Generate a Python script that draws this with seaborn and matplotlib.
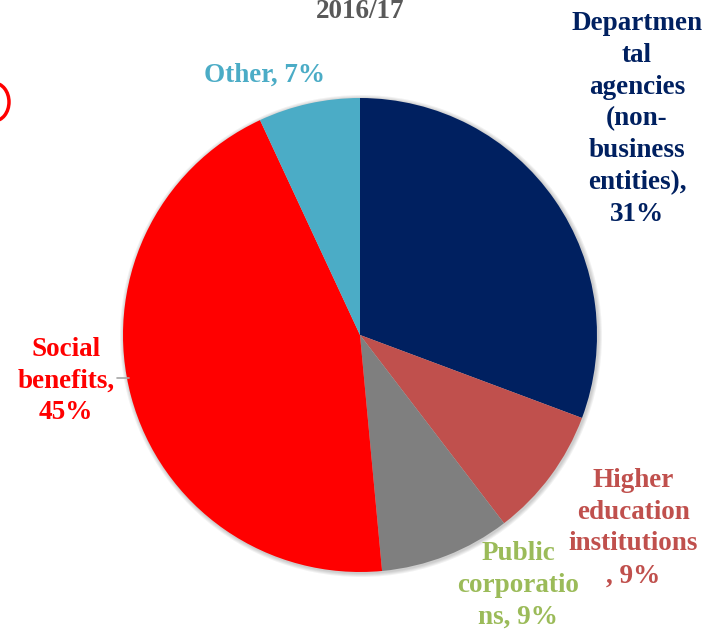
import matplotlib
matplotlib.use("Agg")
import matplotlib.pyplot as plt
import seaborn as sns
from matplotlib.patches import Ellipse, Circle

sns.set_theme(style="white")
plt.rcParams['font.family'] = ['Liberation Serif', 'DejaVu Serif']

title = "2016/17"
categories = ["Departmental agencies (non-business entities)", "Higher education institutions",
              "Public corporations", "Social benefits", "Other"]
values = [31, 9, 9, 45, 7]
label_texts = ["Departmen\ntal\nagencies\n(non-\nbusiness\nentities),\n31%",
               "Higher\neducation\ninstitutions\n, 9%",
               "Public\ncorporatio\nns, 9%",
               "Social\nbenefits,\n45%",
               "Other, 7%"]
slice_colors = ["#002060", "#C0504D", "#7F7F7F", "#FF0000", "#4BACC6"]
label_colors = ["#002060", "#C0504D", "#9BBB59", "#FF0000", "#4BACC6"]
sns.set_palette(slice_colors)

W, H = 704, 629
fig = plt.figure(figsize=(W / 100, H / 100), dpi=100)
ax = fig.add_axes([0, 0, 1, 1])

cx, cy, r = 360, H - 335, 237

# soft shadow
for i in range(4):
    ax.add_patch(Circle((cx + 1, cy - 1), r + 4 - i, color="black", alpha=0.05, lw=0, zorder=0))

ax.pie(values, colors=sns.color_palette(), startangle=90, counterclock=False,
       center=(cx, cy), radius=r, frame=True, wedgeprops=dict(linewidth=0))
ax.set_xlim(0, W)
ax.set_ylim(0, H)
ax.set_aspect("equal")
ax.axis("off")

pos = [(637, 119), (633, 528), (518, 585), (66, 381), (265, 75)]
for txt, col, (x, y) in zip(label_texts, label_colors, pos):
    ax.text(x, H - y, txt, color=col, fontsize=19.5, fontweight="bold",
            ha="center", va="center", linespacing=1.36, zorder=5)

# leader line for social benefits
ax.plot([117, 129], [H - 378, H - 378], color="#A6A6A6", lw=1.2, zorder=4)

ax.text(360, H - 11, title, color="#595959", fontsize=19.5, fontweight="bold",
        ha="center", va="center", zorder=5)

# partial red ellipse at left edge
ax.add_patch(Ellipse((-6, H - 102), 30, 38, fill=False, edgecolor="#FF0000", lw=2.5,
                     clip_on=True, zorder=5))

fig.savefig("out.png", dpi=100)
